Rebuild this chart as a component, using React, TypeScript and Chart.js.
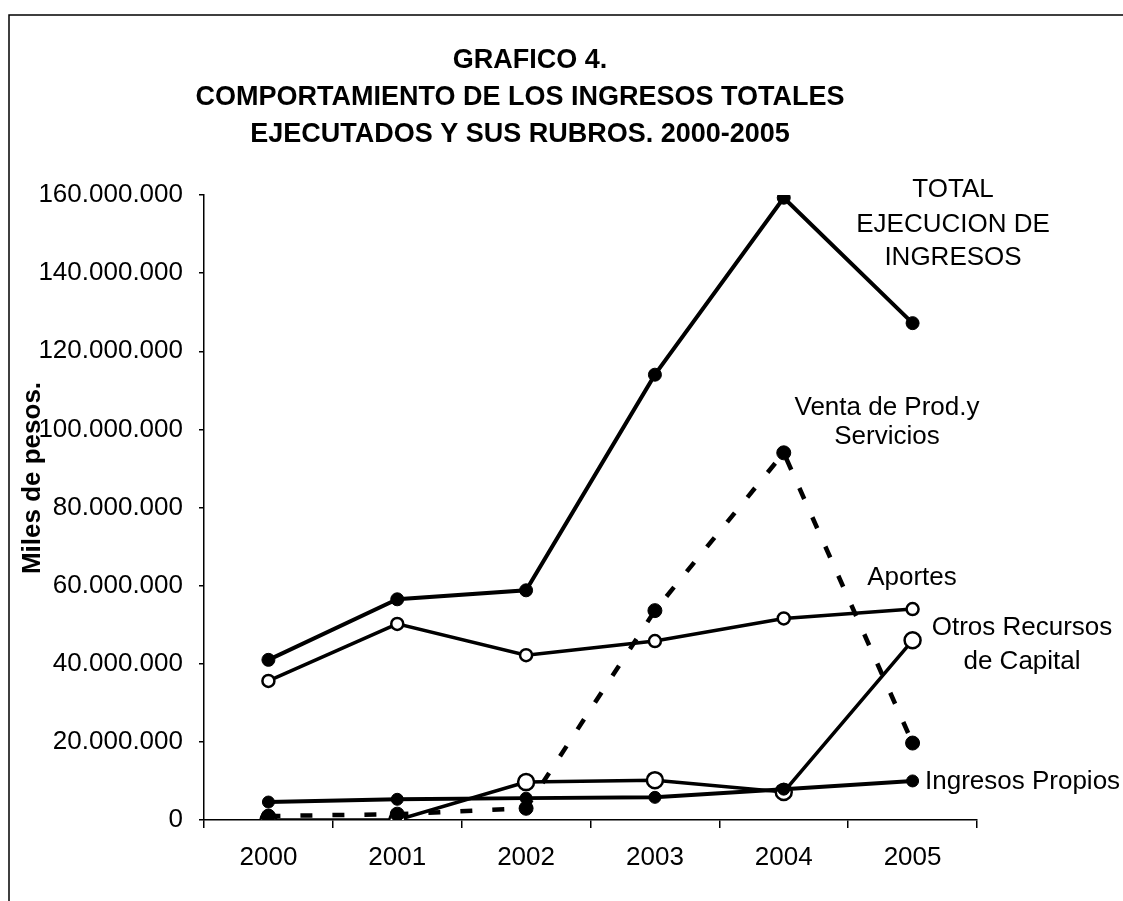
import React, { useEffect, useRef } from 'react';
import { Chart, registerables } from 'chart.js';

Chart.register(...registerables);

// ---- Data (thousands of pesos) ----
const years = ['2000', '2001', '2002', '2003', '2004', '2005'];
const totalEjecucion = [41.0e6, 56.5e6, 58.8e6, 114.0e6, 159.3e6, 127.2e6];
const aportes = [35.6e6, 50.2e6, 42.2e6, 45.8e6, 51.6e6, 54.0e6];
const ventaProdServicios = [1.0e6, 1.5e6, 3.0e6, 53.6e6, 94.0e6, 19.7e6];
const otrosRecursosCapital = [0, 0, 9.7e6, 10.2e6, 7.2e6, 46.0e6];
const ingresosPropios = [4.6e6, 5.3e6, 5.6e6, 5.8e6, 7.9e6, 10.0e6];

const yMin = 0;
const yMax = 160e6;
const yStep = 20e6;

const titleLines = [
  'GRAFICO 4.',
  'COMPORTAMIENTO DE LOS INGRESOS TOTALES',
  'EJECUTADOS Y SUS RUBROS. 2000-2005',
];
const yAxisTitle = 'Miles de pesos.';

// ---- Layout / styling (not data) ----
const W = 1123;
const H = 901;
const FONT = '"Liberation Sans", Arial, Helvetica, sans-serif';

const titlePos = [
  { x: 530, y: 61 },
  { x: 520, y: 98 },
  { x: 520, y: 135 },
];

const seriesLabels = [
  { text: 'TOTAL', x: 953, y: 190, align: 'center' },
  { text: 'EJECUCION DE', x: 953, y: 225, align: 'center' },
  { text: 'INGRESOS', x: 953, y: 258, align: 'center' },
  { text: 'Venta de Prod.y', x: 887, y: 408, align: 'center' },
  { text: 'Servicios', x: 887, y: 437, align: 'center' },
  { text: 'Aportes', x: 912, y: 578, align: 'center' },
  { text: 'Otros Recursos', x: 1022, y: 628, align: 'center' },
  { text: 'de Capital', x: 1022, y: 662, align: 'center' },
  { text: 'Ingresos Propios', x: 925, y: 782, align: 'left' },
];

function fmtDots(v: number): string {
  const s = Math.round(v).toString();
  return s.replace(/\B(?=(\d{3})+(?!\d))/g, '.');
}

const decorPlugin = {
  id: 'decor',
  beforeDraw(chart: any) {
    const ctx = chart.ctx;
    ctx.save();
    ctx.fillStyle = '#ffffff';
    ctx.fillRect(0, 0, W, H);
    // scanned page frame
    ctx.strokeStyle = '#000';
    ctx.lineWidth = 1.5;
    ctx.beginPath();
    ctx.moveTo(9, H);
    ctx.lineTo(9, 15);
    ctx.lineTo(W, 15);
    ctx.stroke();
    ctx.restore();
  },
  afterDraw(chart: any) {
    const ctx = chart.ctx;
    ctx.save();
    ctx.fillStyle = '#000';
    ctx.textBaseline = 'middle';
    // Title
    ctx.font = `bold 27px ${FONT}`;
    ctx.textAlign = 'center';
    titleLines.forEach((t, i) => {
      ctx.fillText(t, titlePos[i].x, titlePos[i].y);
    });
    // Series labels
    ctx.font = `26px ${FONT}`;
    seriesLabels.forEach((l) => {
      ctx.textAlign = l.align as CanvasTextAlign;
      ctx.fillText(l.text, l.x, l.y);
    });
    // Y axis title
    ctx.save();
    ctx.translate(33, 478);
    ctx.rotate(-Math.PI / 2);
    ctx.font = `bold 26px ${FONT}`;
    ctx.textAlign = 'center';
    ctx.fillText(yAxisTitle, 0, 0);
    ctx.restore();
    ctx.restore();
  },
};

export default function App() {
  const ref = useRef<HTMLCanvasElement | null>(null);

  useEffect(() => {
    if (!ref.current) return;
    const chart = new Chart(ref.current, {
      type: 'line',
      data: {
        labels: years,
        datasets: [
          {
            label: 'TOTAL EJECUCION DE INGRESOS',
            data: totalEjecucion,
            borderColor: '#000',
            backgroundColor: '#000',
            borderWidth: 4,
            pointRadius: 6.5,
            pointBorderWidth: 1,
            pointBackgroundColor: '#000',
            pointBorderColor: '#000',
            tension: 0,
          },
          {
            label: 'Venta de Prod.y Servicios',
            data: ventaProdServicios,
            borderColor: '#000',
            backgroundColor: '#000',
            borderWidth: 4.5,
            borderDash: [12, 20],
            pointRadius: 7,
            pointBorderWidth: 1,
            pointBackgroundColor: '#000',
            pointBorderColor: '#000',
            tension: 0,
          },
          {
            label: 'Ingresos Propios',
            data: ingresosPropios,
            borderColor: '#000',
            backgroundColor: '#000',
            borderWidth: 4,
            pointRadius: 6,
            pointBorderWidth: 1,
            pointBackgroundColor: '#000',
            pointBorderColor: '#000',
            tension: 0,
          },
          {
            label: 'Aportes',
            data: aportes,
            borderColor: '#000',
            backgroundColor: '#fff',
            borderWidth: 3.5,
            pointRadius: 6,
            pointBorderWidth: 2.5,
            pointBackgroundColor: '#fff',
            pointBorderColor: '#000',
            tension: 0,
          },
          {
            label: 'Otros Recursos de Capital',
            data: otrosRecursosCapital,
            borderColor: '#000',
            backgroundColor: '#fff',
            borderWidth: 3.5,
            pointRadius: 8,
            pointBorderWidth: 2.5,
            pointBackgroundColor: '#fff',
            pointBorderColor: '#000',
            tension: 0,
          },
        ],
      },
      options: {
        responsive: false,
        animation: false,
        devicePixelRatio: 1,
        layout: { padding: { top: 195, right: W - 977, left: 0, bottom: 0 } },
        plugins: {
          legend: { display: false },
          tooltip: { enabled: false },
          title: { display: false },
        },
        scales: {
          x: {
            type: 'category',
            offset: true,
            grid: {
              display: true,
              offset: true,
              drawOnChartArea: false,
              drawTicks: true,
              tickLength: 8,
              color: '#000',
              lineWidth: 1.5,
            },
            border: { display: true, color: '#000', width: 1.5 },
            ticks: {
              color: '#000',
              font: { family: FONT, size: 26 },
              padding: 14,
              maxRotation: 0,
            },
            afterFit(scale: any) {
              scale.height = H - 820;
            },
          },
          y: {
            min: yMin,
            max: yMax,
            grid: {
              display: true,
              drawOnChartArea: false,
              drawTicks: true,
              tickLength: 5,
              color: '#000',
              lineWidth: 1.5,
            },
            border: { display: true, color: '#000', width: 1.5 },
            ticks: {
              stepSize: yStep,
              color: '#000',
              font: { family: FONT, size: 26 },
              padding: 16,
              callback: (v: any) => fmtDots(Number(v)),
            },
            afterFit(scale: any) {
              scale.width = 204;
            },
          },
        },
      },
      plugins: [decorPlugin],
    });
    return () => chart.destroy();
  }, []);

  return (
    <div style={{ position: 'fixed', left: 0, top: 0, width: W, height: H, background: '#fff' }}>
      <canvas ref={ref} width={W} height={H} style={{ display: 'block' }} />
    </div>
  );
}
